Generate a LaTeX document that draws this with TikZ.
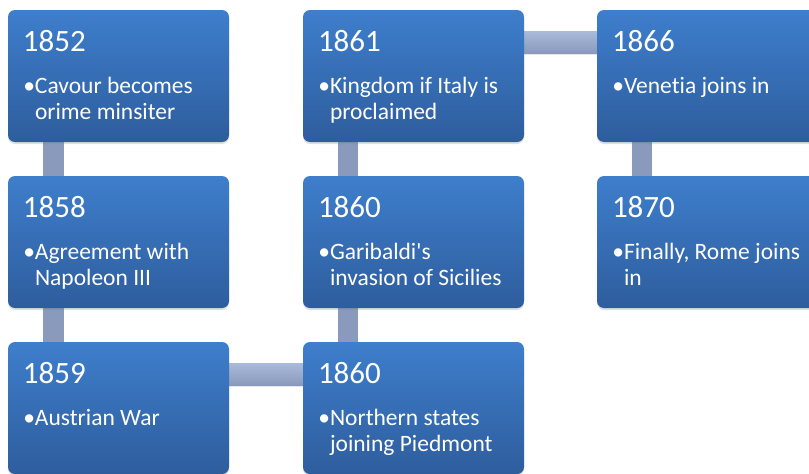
\documentclass[tikz,border=0pt]{standalone}
\usepackage{fontspec}
\setmainfont{Carlito}[Ligatures={NoCommon}]
\usetikzlibrary{shadows}
\definecolor{boxtop}{RGB}{62,126,204}
\definecolor{boxbot}{RGB}{46,93,157}
\definecolor{linkdark}{RGB}{138,154,188}
\definecolor{linklight}{RGB}{170,186,218}
\newcommand{\evtext}[1]{\begin{tabular}[t]{@{}l@{}}\llap{\textbullet}#1\end{tabular}}
\begin{document}
\begin{tikzpicture}[x=1pt, y=-1pt]
      \tikzset{event/.style={rectangle, rounded corners=7pt, minimum width=221pt, minimum height=132pt, inner sep=0pt,
                             top color=boxtop, bottom color=boxbot, draw=none,
                             drop shadow={opacity=0.25, shadow xshift=0pt, shadow yshift=-2pt}},
               year/.style={anchor=base west, inner sep=0pt, text=white, font=\fontsize{31}{31}\selectfont},
               info/.style={anchor=base west, inner sep=0pt, text=white, font=\fontsize{23.5}{26}\selectfont},
               vlink/.style={fill=linkdark, drop shadow={opacity=0.2, shadow xshift=0pt, shadow yshift=-2pt}},
               hlink/.style={top color=linklight, bottom color=linkdark, drop shadow={opacity=0.2, shadow xshift=0pt, shadow yshift=-2pt}}}
      \useasboundingbox (0,0) rectangle (809,474);
%% Connectors
	%lodrette
		\fill[vlink] (43,130) rectangle (64,190);
		\fill[vlink] (43,296) rectangle (64,356);
		\fill[vlink] (338,130) rectangle (358,190);
		\fill[vlink] (338,296) rectangle (358,356);
		\fill[vlink] (632,130) rectangle (652,190);
	%vandrette
		\shade[hlink] (220,363) rectangle (312,385);
		\shade[hlink] (515,31) rectangle (606,53);
%% Events
	%first column
		\node[event] (b1) at (118.5,76) {};
		\node[event] (b2) at (118.5,242) {};
		\node[event] (b3) at (118.5,408) {};
	%second column
		\node[event] (b4) at (413.5,408) {};
		\node[event] (b5) at (413.5,242) {};
		\node[event] (b6) at (413.5,76) {};
	%third column
		\node[event] (b7) at (707.5,76) {};
		\node[event] (b8) at (707.5,242) {};
%% Texts
		\node[year] (y1) at ([xshift=15pt, yshift=-42pt]b1.north west) {1852};
		\node[year] (y2) at ([xshift=15pt, yshift=-42pt]b2.north west) {1858};
		\node[year] (y3) at ([xshift=15pt, yshift=-42pt]b3.north west) {1859};
		\node[year] (y4) at ([xshift=15pt, yshift=-42pt]b4.north west) {1860};
		\node[year] (y5) at ([xshift=15pt, yshift=-42pt]b5.north west) {1860};
		\node[year] (y6) at ([xshift=15pt, yshift=-42pt]b6.north west) {1861};
		\node[year] (y7) at ([xshift=15pt, yshift=-42pt]b7.north west) {1866};
		\node[year] (y8) at ([xshift=15pt, yshift=-42pt]b8.north west) {1870};
		\node[info] (t1) at ([xshift=27pt, yshift=-84pt]b1.north west) {\evtext{Cavour becomes\\orime minsiter}};
		\node[info] (t2) at ([xshift=27pt, yshift=-84pt]b2.north west) {\evtext{Agreement with\\Napoleon III}};
		\node[info] (t3) at ([xshift=27pt, yshift=-84pt]b3.north west) {\evtext{Austrian War}};
		\node[info] (t4) at ([xshift=27pt, yshift=-84pt]b4.north west) {\evtext{Northern states\\joining Piedmont}};
		\node[info] (t5) at ([xshift=27pt, yshift=-84pt]b5.north west) {\evtext{Garibaldi\textquotesingle s\\invasion of Sicilies}};
		\node[info] (t6) at ([xshift=27pt, yshift=-84pt]b6.north west) {\evtext{Kingdom if Italy is\\proclaimed}};
		\node[info] (t7) at ([xshift=27pt, yshift=-84pt]b7.north west) {\evtext{Venetia joins in}};
		\node[info] (t8) at ([xshift=27pt, yshift=-84pt]b8.north west) {\evtext{Finally, Rome joins\\in}};
\end{tikzpicture}
\end{document}
